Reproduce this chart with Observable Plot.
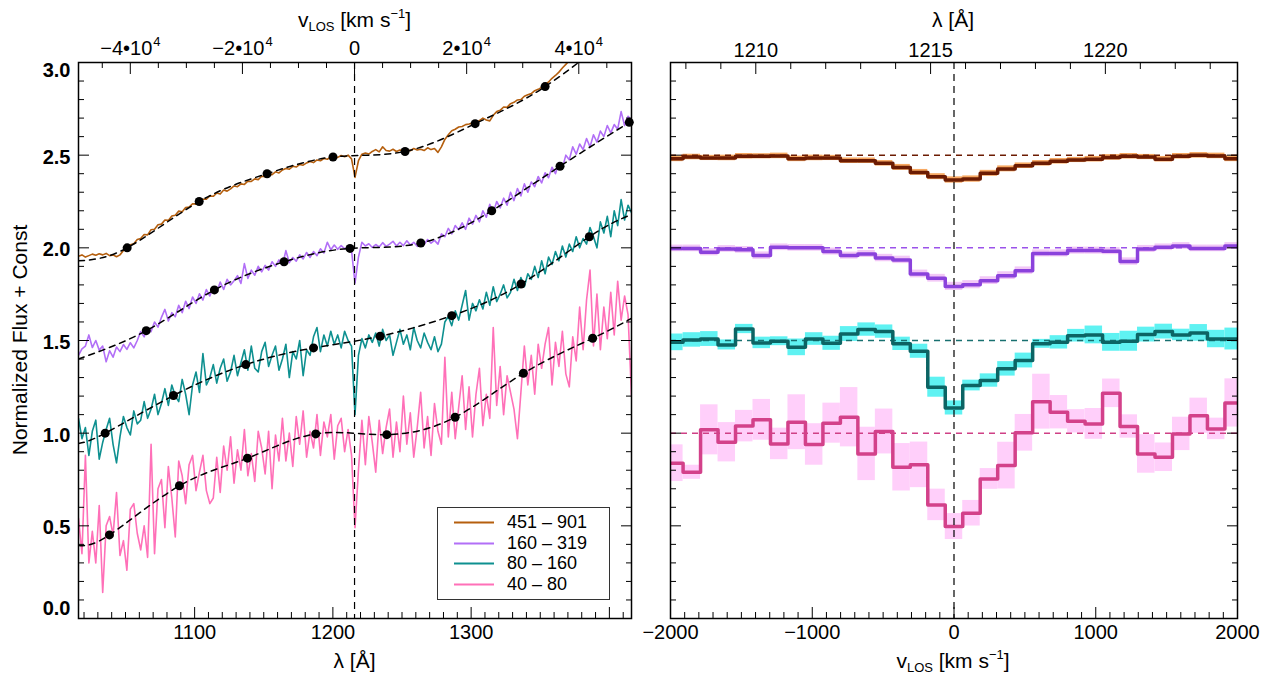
<!DOCTYPE html>
<html>
<head>
<meta charset="utf-8">
<script src="https://cdn.jsdelivr.net/npm/d3@7"></script>
<script src="https://cdn.jsdelivr.net/npm/@observablehq/plot@0.6"></script>
<style>
  body { margin: 0; background: #fff; }
  #fig { position: relative; width: 1264px; height: 673px; overflow: hidden; background: #fff;
         font-family: "Liberation Sans", Arial, Helvetica, sans-serif; color: #000; }
  .panel { position: absolute; top: 0; }
  .ttl { position: absolute; font-size: 21px; white-space: nowrap; transform: translate(-50%, -50%); line-height: 1; }
  .ttl sub { font-size: 13px; vertical-align: -4px; line-height: 0; }
  .ttl sup { font-size: 13px; vertical-align: 9px; line-height: 0; }
  #legend { position: absolute; left: 437px; top: 507px; width: 171px; height: 91px;
            border: 1px solid #333; background: #fff; }
  .lrow { position: absolute; left: 0; width: 171px; height: 20px; font-size: 18px; line-height: 20px; white-space: nowrap; }
  .lrow svg { position: absolute; left: 16px; top: 9px; }
  .lrow span { position: absolute; left: 69px; top: 0; }
</style>
</head>
<body>
<div id="fig"></div>
<script>
const C_KMS = 299792.458;
const LYA = 1215.67;
const vel = lam => C_KMS * (lam / LYA - 1);
const lamOf = v => LYA * (1 + v / C_KMS);

// ---------- Left panel: stacked spectra, sampled every 2.5 Å from 1016 Å ----------
const lamStart = 1016, lamStep = 2.5;
const binLabels = ["451 – 901", "160 – 319", "80 – 160", "40 – 80"];
const specColors = ["#b55f0e", "#b26ff7", "#0e9090", "#ff70b8"];

const flux451 = [
  1.955,1.962,1.950,1.958,1.966,1.960,1.968,1.962,1.970,1.958,
  1.962,1.952,1.962,1.985,2.000,2.016,2.022,2.045,2.050,2.072,
  2.070,2.098,2.100,2.125,2.128,2.150,2.148,2.172,2.176,2.198,
  2.195,2.218,2.220,2.238,2.236,2.255,2.262,2.262,2.280,2.278,
  2.296,2.290,2.312,2.306,2.318,2.334,2.330,2.345,2.342,2.360,
  2.358,2.372,2.368,2.386,2.384,2.398,2.395,2.410,2.404,2.420,
  2.428,2.424,2.440,2.436,2.450,2.446,2.458,2.466,2.460,2.474,
  2.470,2.482,2.478,2.490,2.494,2.488,2.498,2.492,2.500,2.480,
  2.380,2.470,2.505,2.512,2.506,2.520,2.530,2.518,2.545,2.525,
  2.522,2.532,2.520,2.528,2.522,2.530,2.524,2.536,2.528,2.532,
  2.525,2.540,2.530,2.536,2.515,2.545,2.585,2.610,2.632,2.640,
  2.652,2.655,2.665,2.668,2.674,2.680,2.686,2.700,2.690,2.685,
  2.715,2.735,2.742,2.760,2.758,2.778,2.785,2.798,2.800,2.818,
  2.826,2.832,2.848,2.855,2.866,2.878,2.895,2.915,2.930,2.948,
  2.970,2.990,3.010
];
const flux160 = [
  1.420,1.455,1.470,1.530,1.462,1.500,1.448,1.470,1.385,1.445,
  1.410,1.465,1.440,1.478,1.452,1.488,1.460,1.500,1.548,1.520,
  1.570,1.548,1.600,1.572,1.625,1.668,1.605,1.650,1.628,1.690,
  1.650,1.712,1.672,1.735,1.700,1.752,1.718,1.775,1.740,1.790,
  1.760,1.815,1.775,1.830,1.800,1.822,1.850,1.808,1.915,1.835,
  1.880,1.852,1.900,1.870,1.905,1.880,1.925,1.900,1.935,1.905,
  1.985,1.920,1.948,1.928,1.962,1.940,1.975,1.948,1.980,1.958,
  1.995,1.972,2.030,1.990,2.015,1.992,2.012,1.995,2.005,1.985,
  1.810,1.950,2.030,2.010,2.022,2.002,2.018,2.005,2.028,2.008,
  2.020,2.035,2.010,2.030,2.012,2.038,2.015,2.030,2.008,2.035,
  2.018,2.045,2.025,2.040,2.020,2.075,2.060,2.105,2.075,2.120,
  2.098,2.135,2.100,2.160,2.128,2.175,2.140,2.200,2.165,2.235,
  2.190,2.250,2.215,2.268,2.230,2.300,2.255,2.320,2.280,2.345,
  2.300,2.355,2.330,2.385,2.350,2.405,2.378,2.435,2.400,2.460,
  2.430,2.500,2.475,2.545,2.505,2.560,2.530,2.590,2.545,2.610,
  2.570,2.630,2.600,2.660,2.620,2.665,2.640,2.735,2.660,2.710,
  2.690
];
const flux80 = [
  1.08,0.97,1.03,0.88,1.01,1.07,0.86,0.95,1.02,1.08,
  0.94,0.84,0.98,1.09,1.03,0.99,1.12,1.05,1.07,1.17,
  1.08,1.13,1.21,1.10,1.16,1.24,1.15,1.26,1.20,1.17,
  1.29,1.21,1.10,1.26,1.33,1.22,1.43,1.26,1.30,1.37,
  1.27,1.35,1.40,1.28,1.33,1.42,1.31,1.38,1.45,1.34,
  1.47,1.35,1.33,1.44,1.49,1.36,1.42,1.47,1.34,1.40,
  1.48,1.30,1.44,1.40,1.50,1.31,1.45,1.42,1.52,1.57,
  1.44,1.53,1.47,1.55,1.48,1.53,1.46,1.55,1.50,1.47,
  1.10,1.42,1.51,1.46,1.53,1.49,1.54,1.47,1.56,1.50,
  1.53,1.42,1.49,1.56,1.48,1.53,1.45,1.57,1.50,1.46,
  1.54,1.49,1.45,1.52,1.44,1.48,1.60,1.63,1.58,1.66,
  1.61,1.69,1.77,1.61,1.70,1.66,1.72,1.67,1.76,1.69,
  1.79,1.71,1.75,1.80,1.73,1.76,1.83,1.77,1.84,1.79,
  1.86,1.83,1.90,1.84,1.93,1.86,1.95,1.91,1.98,1.93,
  2.01,1.95,2.02,1.98,2.06,2.00,2.05,2.02,2.11,2.06,
  2.00,2.14,2.08,2.17,2.06,2.20,2.12,2.26,2.15,2.23,
  2.19
];
const flux40 = [
  0.54,0.35,0.88,0.30,0.47,0.30,0.61,0.14,0.50,0.55,
  0.45,0.68,0.34,0.42,0.26,0.59,0.62,0.46,0.37,0.50,
  0.33,0.94,0.35,0.70,0.75,0.49,0.82,0.65,0.44,0.85,
  0.77,0.62,0.83,0.88,0.69,0.79,0.88,0.69,0.62,0.65,
  0.87,0.68,0.93,0.80,0.98,0.73,0.91,0.80,1.02,0.77,
  0.89,0.74,1.01,0.92,0.78,1.01,0.70,0.99,0.85,1.08,
  0.85,1.00,0.82,1.09,0.94,1.12,0.87,1.01,0.92,1.10,
  0.88,1.06,0.98,1.10,0.86,1.04,1.08,0.90,1.02,0.88,
  0.49,0.80,1.07,0.83,1.09,0.95,0.79,1.07,0.89,1.03,
  1.13,0.87,1.06,0.90,1.20,0.94,1.11,0.87,1.03,1.22,
  0.92,1.09,0.88,1.16,1.01,0.94,1.41,0.98,1.22,0.97,
  1.14,1.31,1.02,1.25,0.98,1.21,1.35,1.04,1.21,1.08,
  1.57,1.15,1.36,1.10,1.31,1.22,1.13,0.97,1.22,1.47,
  1.26,1.42,1.21,1.48,1.35,1.48,1.57,1.26,1.49,1.36,
  1.55,1.32,1.25,1.52,1.39,1.68,1.45,1.72,1.88,1.47,
  1.75,1.45,1.68,1.51,1.76,1.53,1.82,1.61,1.74,1.64,
  1.20
];

// Continuum fits: spline knots (dots) plus the curve's values at the panel edges (1016 Å, 1416 Å)
const knotLam451 = [1051.2, 1103.3, 1152.4, 1200.1, 1252.2, 1302.9, 1353.5];
const knotFlux451 = [2.000, 2.250, 2.400, 2.490, 2.520, 2.670, 2.870];
const edgeFlux451 = [1.930, 3.230];
const knotLam160 = [1065.0, 1114.3, 1164.7, 1212.4, 1263.6, 1314.9, 1364.3, 1414.4];
const knotFlux160 = [1.553, 1.773, 1.925, 1.997, 2.026, 2.200, 2.440, 2.677];
const edgeFlux160 = [1.400, 2.685];
const knotLam80 = [1035.3, 1084.7, 1137.0, 1186.0, 1234.2, 1286.0, 1336.1, 1385.5];
const knotFlux80 = [1.000, 1.203, 1.370, 1.460, 1.523, 1.634, 1.805, 2.060];
const edgeFlux80 = [0.944, 2.180];
const knotLam40 = [1038.4, 1089.0, 1138.2, 1187.6, 1239.0, 1288.4, 1337.8, 1387.9];
const knotFlux40 = [0.451, 0.716, 0.865, 0.996, 0.992, 1.086, 1.323, 1.512];
const edgeFlux40 = [0.394, 1.620];
const lamEdges = [1016, 1416];

// ---------- Right panel: Lyα region rebinned in 0.5 Å bins (velocity) ----------
const binWidthLam = 0.5;
const binIdx = d3.range(-16, 17);
const refLevels = [2.5, 2.0, 1.5, 1.0];

const stack451 = [2.480,2.490,2.485,2.485,2.494,2.494,2.496,2.480,2.485,2.485,2.470,2.470,2.456,2.434,2.407,2.384,2.366,
                  2.371,2.402,2.426,2.443,2.456,2.467,2.474,2.478,2.488,2.494,2.490,2.478,2.494,2.499,2.496,2.480];
const err451 = [0.015,0.015,0.014,0.015,0.015,0.014,0.015,0.015,0.015,0.014,0.015,0.015,0.015,0.016,0.016,0.016,0.017,
                0.017,0.016,0.016,0.015,0.015,0.015,0.014,0.015,0.015,0.015,0.014,0.015,0.015,0.015,0.015,0.015];
const stack160 = [1.997,1.997,1.976,1.994,1.989,1.958,2.003,2.000,2.000,1.980,1.958,1.967,1.945,1.935,1.859,1.836,1.792,
                  1.801,1.823,1.850,1.877,1.970,1.970,1.985,1.985,1.982,1.926,1.994,2.003,2.010,1.997,1.997,2.010];
const err160 = [0.018,0.018,0.019,0.018,0.018,0.020,0.018,0.018,0.018,0.019,0.019,0.019,0.020,0.020,0.021,0.021,0.022,
                0.022,0.021,0.021,0.020,0.019,0.019,0.019,0.019,0.019,0.020,0.019,0.018,0.018,0.018,0.018,0.018];
const stack80 = [1.490,1.503,1.508,1.476,1.562,1.487,1.496,1.463,1.508,1.485,1.535,1.559,1.548,1.482,1.442,1.248,1.136,
                 1.257,1.284,1.347,1.392,1.482,1.490,1.526,1.530,1.490,1.496,1.532,1.548,1.530,1.541,1.508,1.508];
const err80 = [0.045,0.039,0.040,0.027,0.025,0.031,0.024,0.045,0.034,0.038,0.040,0.036,0.036,0.036,0.038,0.054,0.038,
               0.029,0.036,0.039,0.040,0.024,0.036,0.034,0.048,0.048,0.054,0.040,0.040,0.031,0.045,0.047,0.059];
const stack40 = [0.838,0.789,1.018,0.951,1.038,1.072,0.942,1.059,0.939,1.054,1.086,0.888,1.009,0.816,0.829,0.613,0.496,
                 0.568,0.753,0.825,1.002,1.170,1.113,1.064,1.050,1.215,1.036,0.888,0.870,0.996,1.094,1.023,1.163];
const err40 = [0.099,0.038,0.135,0.106,0.085,0.110,0.085,0.148,0.112,0.108,0.160,0.144,0.121,0.128,0.123,0.085,0.070,
               0.069,0.056,0.126,0.099,0.148,0.090,0.063,0.083,0.077,0.063,0.104,0.077,0.090,0.095,0.058,0.130];

const stepColors = ["#6c1c03", "#8b42dc", "#0c6464", "#d3418a"];
const haloColors = ["#f7a862", "#f2c8f6", "#5ff2f2", "#ffcffa"];
const refColors  = ["#6c1c03", "#9b52ea", "#187070", "#cf4086"];

// ---------- helpers ----------
const FONT = "'Liberation Sans', Arial, Helvetica, sans-serif";
const svgStyle = `font-family: ${FONT}; font-size: 20px; background: transparent; overflow: visible; color: #000;`;

function inTicksX(values, anchor, size) {
  return Plot.axisX({ticks: values, anchor, tickSize: -size, fill: "none", label: null, stroke: "#000", strokeWidth: 1});
}
function inTicksY(values, anchor, size) {
  return Plot.axisY({ticks: values, anchor, tickSize: -size, fill: "none", label: null, stroke: "#000", strokeWidth: 1});
}
const range = (a, b, s) => d3.range(Math.round((b - a) / s) + 1).map(i => +(a + i * s).toFixed(6));
const yMinor = range(0, 3, 0.1).filter(v => Math.abs(v * 2 - Math.round(v * 2)) > 1e-6);
const yMajor = range(0, 3, 0.5);

// ---------- left panel ----------
const fluxes = [flux451, flux160, flux80, flux40];
const knotsLam = [knotLam451, knotLam160, knotLam80, knotLam40];
const knotsFlux = [knotFlux451, knotFlux160, knotFlux80, knotFlux40];
const edges = [edgeFlux451, edgeFlux160, edgeFlux80, edgeFlux40];

const specRows = fluxes.map(f => f.map((y, i) => ({lam: lamStart + i * lamStep, y})));
const knotRows = knotsLam.map((L, s) => L.map((lam, i) => ({lam, y: knotsFlux[s][i]})));
const contRows = knotRows.map((rows, s) => [{lam: lamEdges[0], y: edges[s][0]}, ...rows, {lam: lamEdges[1], y: edges[s][1]}]);

const velMinor = range(-45000, 45000, 5000);
const velMajor = [-40000, -20000, 0, 20000, 40000];
const lamMinor = range(1020, 1410, 10).filter(v => v % 100 !== 0);
const lamMajor = [1100, 1200, 1300, 1400];
const expLabel = v => String(Math.abs(v) / 10000);

const left = Plot.plot({
  width: 640, height: 673,
  marginLeft: 78, marginRight: 9, marginTop: 62, marginBottom: 55,
  x: {domain: [1016, 1416]},
  y: {domain: [0, 3]},
  style: svgStyle,
  marks: [
    ...[3, 2, 1, 0].map(s => Plot.line(specRows[s], {x: "lam", y: "y", stroke: specColors[s], strokeWidth: 1.6, clip: true})),
    ...contRows.map(rows => Plot.line(rows, {x: "lam", y: "y", curve: "natural", stroke: "#000", strokeWidth: 1.5, strokeDasharray: "6,5", clip: true})),
    ...knotRows.map(rows => Plot.dot(rows, {x: "lam", y: "y", r: 4.5, fill: "#000", stroke: "none"})),
    Plot.ruleX([LYA], {stroke: "#000", strokeWidth: 1.2, strokeDasharray: "7,5"}),
    Plot.frame({stroke: "#000", strokeWidth: 1.5}),
    // inward ticks
    inTicksX(lamMinor, "bottom", 6), inTicksX(lamMajor, "bottom", 11),
    inTicksX(velMinor.filter(v => v % 20000 !== 0).map(lamOf), "top", 5),
    inTicksX(velMajor.map(lamOf), "top", 11),
    inTicksY(yMinor, "left", 6), inTicksY(yMajor, "left", 11),
    inTicksY(yMinor, "right", 6), inTicksY(yMajor, "right", 11),
    // bottom wavelength labels
    Plot.axisX({ticks: [1100, 1200, 1300], anchor: "bottom", tickSize: 0, tickPadding: 6, label: null, tickFormat: d => String(d), fontSize: 20}),
    // y labels (end labels nudged inside the frame)
    Plot.axisY({ticks: [0.5, 1.0, 1.5, 2.0, 2.5], anchor: "left", tickSize: 0, tickPadding: 8, label: null, tickFormat: d => d.toFixed(1), fontSize: 20, fontWeight: "bold", dy: 2}),
    Plot.axisY({ticks: [0], anchor: "left", tickSize: 0, tickPadding: 8, label: null, tickFormat: d => d.toFixed(1), fontSize: 20, fontWeight: "bold", dy: -10}),
    Plot.axisY({ticks: [3], anchor: "left", tickSize: 0, tickPadding: 8, label: null, tickFormat: d => d.toFixed(1), fontSize: 20, fontWeight: "bold", dy: 8}),
    // top velocity labels  m•10^4
    Plot.text([0], {x: v => lamOf(v), text: () => "0", frameAnchor: "top", lineAnchor: "bottom", dy: -8, fontSize: 20}),
    Plot.text(velMajor.filter(v => v < 0), {x: v => lamOf(v), text: v => `−${expLabel(v)}•10`, frameAnchor: "top", lineAnchor: "bottom", textAnchor: "end", dy: -8, dx: 22, fontSize: 20}),
    Plot.text(velMajor.filter(v => v > 0), {x: v => lamOf(v), text: v => `${expLabel(v)}•10`, frameAnchor: "top", lineAnchor: "bottom", textAnchor: "end", dy: -8, dx: 16, fontSize: 20}),
    Plot.text(velMajor.filter(v => v < 0), {x: v => lamOf(v), text: () => "4", frameAnchor: "top", lineAnchor: "bottom", textAnchor: "start", dy: -17, dx: 23, fontSize: 13}),
    Plot.text(velMajor.filter(v => v > 0), {x: v => lamOf(v), text: () => "4", frameAnchor: "top", lineAnchor: "bottom", textAnchor: "start", dy: -17, dx: 17, fontSize: 13})
  ]
});

// ---------- right panel ----------
const binW = C_KMS * binWidthLam / LYA;
const stacks = [stack451, stack160, stack80, stack40];
const errs = [err451, err160, err80, err40];
const haloRows = stacks.map((vals, s) => vals.map((y, i) => ({
  x1: (binIdx[i] - 0.5) * binW, x2: (binIdx[i] + 0.5) * binW, y1: y - errs[s][i], y2: y + errs[s][i]
})));
const stepRows = stacks.map(vals => {
  const rows = vals.map((y, i) => ({v: (binIdx[i] - 0.5) * binW, y}));
  rows.push({v: (binIdx[vals.length - 1] + 0.5) * binW, y: vals[vals.length - 1]});
  return rows;
});

const vMinor = range(-1900, 1900, 100).filter(v => v % 1000 !== 0);
const vMajor = range(-2000, 2000, 1000);
const lamTopMinor = range(1208, 1223, 1).filter(v => v % 5 !== 0);
const lamTopMajor = [1210, 1215, 1220];

const right = Plot.plot({
  width: 624, height: 673,
  marginLeft: 30, marginRight: 27, marginTop: 62, marginBottom: 55,
  x: {domain: [-2000, 2000]},
  y: {domain: [0, 3]},
  style: svgStyle,
  marks: [
    ...haloRows.map((rows, s) => Plot.rect(rows, {x1: "x1", x2: "x2", y1: "y1", y2: "y2", fill: haloColors[s], clip: true})),
    ...refLevels.map((lv, s) => Plot.ruleY([lv], {stroke: refColors[s], strokeWidth: 1.5, strokeDasharray: "6,5"})),
    ...stepRows.map((rows, s) => Plot.line(rows, {x: "v", y: "y", curve: "step-after", stroke: stepColors[s], strokeWidth: 3.5, clip: true})),
    Plot.ruleX([0], {stroke: "#000", strokeWidth: 1.2, strokeDasharray: "7,5"}),
    Plot.frame({stroke: "#000", strokeWidth: 1.5}),
    inTicksX(vMinor, "bottom", 6), inTicksX(vMajor, "bottom", 11),
    inTicksX(lamTopMinor.map(vel), "top", 6), inTicksX(lamTopMajor.map(vel), "top", 11),
    inTicksY(yMinor, "left", 6), inTicksY(yMajor, "left", 11),
    inTicksY(yMinor, "right", 6), inTicksY(yMajor, "right", 11),
    Plot.axisX({ticks: vMajor, anchor: "bottom", tickSize: 0, tickPadding: 6, label: null,
                tickFormat: d => d < 0 ? `−${-d}` : String(d), fontSize: 20}),
    Plot.axisX({ticks: lamTopMajor.map(vel), anchor: "top", tickSize: 0, tickPadding: 6, label: null,
                tickFormat: v => String(Math.round(lamOf(v))), fontSize: 20})
  ]
});

// ---------- assemble ----------
const fig = document.getElementById("fig");
const pl = document.createElement("div"); pl.className = "panel"; pl.style.left = "0px"; pl.appendChild(left);
const pr = document.createElement("div"); pr.className = "panel"; pr.style.left = "640px"; pr.appendChild(right);
fig.appendChild(pl); fig.appendChild(pr);

function title(html, x, y, rotate) {
  const d = document.createElement("div");
  d.className = "ttl";
  d.innerHTML = html;
  d.style.left = x + "px"; d.style.top = y + "px";
  if (rotate) d.style.transform = "translate(-50%, -50%) rotate(-90deg)";
  fig.appendChild(d);
}
const vlos = "v<sub>LOS</sub> [km s<sup>−1</sup>]";
title(vlos, 354.5, 19);
title("λ [Å]", 354.5, 660);
title("λ [Å]", 953, 19);
title(vlos, 953, 660);
title("Normalized Flux + Const", 19, 340, true);

// legend
const leg = document.createElement("div");
leg.id = "legend";
binLabels.forEach((lab, i) => {
  const row = document.createElement("div");
  row.className = "lrow";
  row.style.top = (4 + i * 20.5) + "px";
  row.innerHTML = `<svg width="40" height="3"><line x1="0" y1="1.5" x2="40" y2="1.5" stroke="${specColors[i]}" stroke-width="2"/></svg><span>${lab}</span>`;
  leg.appendChild(row);
});
fig.appendChild(leg);
</script>
</body>
</html>
